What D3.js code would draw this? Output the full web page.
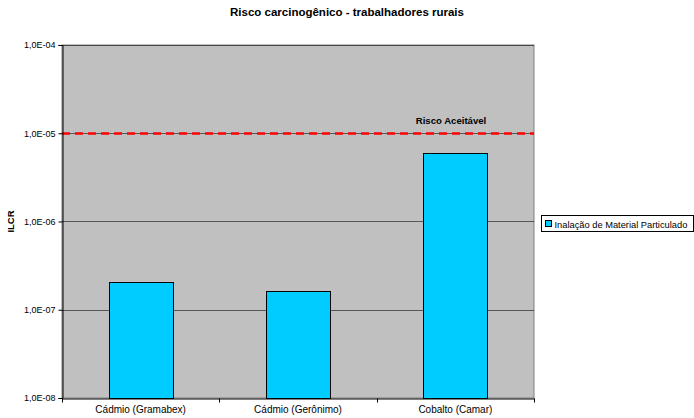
<!DOCTYPE html>
<html>
<head>
<meta charset="utf-8">
<script src="https://cdn.jsdelivr.net/npm/d3@7"></script>
<style>
  body { margin: 0; background: #fff; }
  text { font-family: "Liberation Sans", Arial, sans-serif; }
</style>
</head>
<body>
<div id="chart"></div>
<script>
var categories = ['Cádmio (Gramabex)', 'Cádmio (Gerônimo)', 'Cobalto (Camar)'];
var values = [2.07e-7, 1.64e-7, 6.05e-6];
var yTicks = [1e-8, 1e-7, 1e-6, 1e-5, 1e-4];
var yTickLabels = ['1,0E-08', '1,0E-07', '1,0E-06', '1,0E-05', '1,0E-04'];
var acceptableRisk = 1e-5;
var seriesName = 'Inalação de Material Particulado';

var W = 694, H = 418;
var m = { left: 62, right: 160, top: 45, bottom: 20 };

var svg = d3.select('#chart').append('svg')
  .attr('width', W).attr('height', H);

var x = d3.scaleBand().domain(categories).range([m.left, W - m.right]);
var y = d3.scaleLog().domain([1e-8, 1e-4]).range([H - m.bottom, m.top]);

// plot area
svg.append('rect')
  .attr('x', m.left).attr('y', m.top)
  .attr('width', W - m.right - m.left).attr('height', H - m.bottom - m.top)
  .attr('fill', '#c0c0c0')
  .attr('stroke', '#808080').attr('stroke-width', 1);

// gridlines
svg.append('g').selectAll('line')
  .data(yTicks.slice(1))
  .enter().append('line')
  .attr('x1', m.left).attr('x2', W - m.right)
  .attr('y1', function(d) { return Math.round(y(d)) + 0.5; })
  .attr('y2', function(d) { return Math.round(y(d)) + 0.5; })
  .attr('stroke', '#000').attr('stroke-opacity', 0.55);

// bars
var bw = 64;
svg.append('g').selectAll('rect')
  .data(values)
  .enter().append('rect')
  .attr('x', function(d, i) { return Math.round(x(categories[i]) + x.bandwidth() / 2 - bw / 2) + 0.5; })
  .attr('y', function(d) { return Math.round(y(d)) + 0.5; })
  .attr('width', bw)
  .attr('height', function(d) { return Math.round(y(1e-8)) - Math.round(y(d)); })
  .attr('fill', '#00ccff')
  .attr('stroke', '#000').attr('stroke-width', 1);

// acceptable risk line
var ry = Math.round(y(acceptableRisk)) + 0.5;
svg.append('line')
  .attr('x1', m.left).attr('x2', W - m.right)
  .attr('y1', ry).attr('y2', ry)
  .attr('stroke', '#ff0000').attr('stroke-width', 2.5)
  .attr('stroke-dasharray', '8,5');
svg.append('text')
  .attr('x', 451).attr('y', ry - 10)
  .attr('text-anchor', 'middle')
  .attr('font-size', '9.6px').attr('font-weight', 'bold')
  .text('Risco Aceitável');

// y axis
var yAxis = d3.axisLeft(y).tickValues(yTicks)
  .tickFormat(function(d, i) { return yTickLabels[i]; })
  .tickSize(4).tickPadding(3);
var gy = svg.append('g').attr('transform', 'translate(' + (m.left + 0.5) + ',0)').call(yAxis);
gy.selectAll('text').attr('font-size', '9px').attr('font-family', '"Liberation Sans", Arial, sans-serif').attr('fill', '#000');
gy.select('.domain').attr('stroke', '#000');

// x axis
var xAxis = d3.axisBottom(x).tickSize(0).tickPadding(7);
var gx = svg.append('g').attr('transform', 'translate(0,' + (H - m.bottom + 0.5) + ')').call(xAxis);
gx.selectAll('text').attr('font-size', '10px').attr('font-family', '"Liberation Sans", Arial, sans-serif').attr('fill', '#000');
gx.select('.domain').attr('stroke', '#000');
var bounds = categories.map(function(c) { return x(c); }).concat([W - m.right]);
gx.selectAll('.bt').data(bounds).enter().append('line')
  .attr('x1', function(d) { return Math.round(d) + 0.5; })
  .attr('x2', function(d) { return Math.round(d) + 0.5; })
  .attr('y1', 0).attr('y2', 4).attr('stroke', '#000');

// title
svg.append('text')
  .attr('x', 347).attr('y', 16)
  .attr('text-anchor', 'middle')
  .attr('font-size', '11.5px').attr('font-weight', 'bold')
  .text('Risco carcinogênico - trabalhadores rurais');

// y label
svg.append('text')
  .attr('transform', 'translate(14,' + ((m.top + H - m.bottom) / 2) + ') rotate(-90)')
  .attr('text-anchor', 'middle')
  .attr('font-size', '9.5px').attr('font-weight', 'bold')
  .text('ILCR');

// legend
var lg = svg.append('g').attr('transform', 'translate(541.5,215.5)');
lg.append('rect').attr('width', 152).attr('height', 16)
  .attr('fill', '#fff').attr('stroke', '#000');
lg.append('rect').attr('x', 4).attr('y', 5).attr('width', 6).attr('height', 6)
  .attr('fill', '#00ccff').attr('stroke', '#000');
lg.append('text').attr('x', 13).attr('y', 12)
  .attr('font-size', '9.3px')
  .text(seriesName);
</script>
</body>
</html>
